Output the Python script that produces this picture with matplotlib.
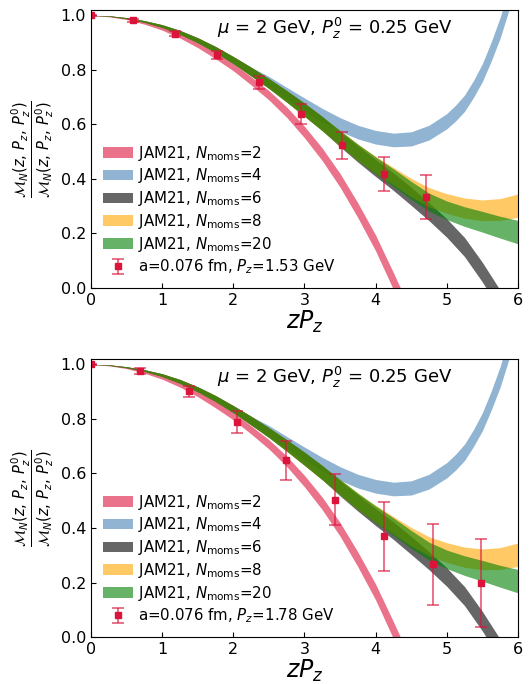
import matplotlib.pyplot as plt

# zP_z grid shared by the JAM21 bands
zpz = [0.0, 0.25, 0.5, 0.75, 1.0, 1.25, 1.5, 1.75, 2.0, 2.25, 2.5, 2.75, 3.0,
       3.25, 3.5, 3.75, 4.0, 4.25, 4.5, 4.75, 5.0, 5.25, 5.5, 5.75, 6.0]
# N=4 rises fast past zP_z=5, so it gets a finer grid there
zpz_n4 = [0.0, 0.25, 0.5, 0.75, 1.0, 1.25, 1.5, 1.75, 2.0, 2.25, 2.5, 2.75,
          3.0, 3.25, 3.5, 3.75, 4.0, 4.25, 4.5, 4.75, 5.0, 5.125, 5.25, 5.375,
          5.5, 5.625, 5.75, 5.875, 6.0]

# band centres and half widths
n2_mid = [1.000, 0.997, 0.988, 0.973, 0.952, 0.925, 0.892, 0.853, 0.810, 0.760,
          0.707, 0.645, 0.572, 0.490, 0.395, 0.285, 0.165, 0.025, -0.120]
n2_err = [0.000, 0.002, 0.003, 0.005, 0.006, 0.008, 0.010, 0.012, 0.013, 0.015,
          0.017, 0.019, 0.021, 0.023, 0.025, 0.027, 0.029, 0.031, 0.033]

n4_mid = [1.000, 0.998, 0.990, 0.978, 0.961, 0.938, 0.909, 0.875, 0.836, 0.794,
          0.756, 0.714, 0.673, 0.634, 0.600, 0.572, 0.553, 0.543, 0.547, 0.570,
          0.612, 0.642, 0.678, 0.730, 0.790, 0.868, 0.955, 1.062, 1.180]
n4_err = [0.000, 0.001, 0.002, 0.003, 0.005, 0.007, 0.009, 0.011, 0.013, 0.016,
          0.020, 0.022, 0.024, 0.025, 0.025, 0.025, 0.025, 0.025, 0.026, 0.027,
          0.028, 0.029, 0.030, 0.031, 0.033, 0.035, 0.038, 0.041, 0.045]

n6_mid = [1.000, 0.998, 0.990, 0.978, 0.961, 0.938, 0.909, 0.875, 0.836, 0.794,
          0.750, 0.703, 0.654, 0.603, 0.546, 0.492, 0.440, 0.390, 0.336, 0.280,
          0.220, 0.150, 0.058, -0.045, -0.160]
n6_err = [0.000, 0.001, 0.002, 0.003, 0.005, 0.007, 0.009, 0.011, 0.013, 0.016,
          0.018, 0.021, 0.024, 0.026, 0.028, 0.030, 0.031, 0.032, 0.033, 0.033,
          0.034, 0.035, 0.036, 0.037, 0.038]

n8_mid = [1.000, 0.998, 0.990, 0.978, 0.961, 0.938, 0.909, 0.875, 0.836, 0.794,
          0.750, 0.703, 0.654, 0.603, 0.550, 0.498, 0.452, 0.410, 0.368, 0.333,
          0.310, 0.293, 0.285, 0.288, 0.302]
n8_err = [0.000, 0.001, 0.002, 0.003, 0.005, 0.007, 0.009, 0.011, 0.013, 0.016,
          0.018, 0.021, 0.024, 0.026, 0.028, 0.030, 0.031, 0.032, 0.034, 0.035,
          0.036, 0.037, 0.038, 0.040, 0.043]

n20_mid = [1.000, 0.998, 0.990, 0.978, 0.961, 0.938, 0.909, 0.875, 0.836, 0.794,
           0.750, 0.703, 0.654, 0.603, 0.550, 0.498, 0.450, 0.405, 0.358, 0.315,
           0.285, 0.262, 0.243, 0.223, 0.205]
n20_err = [0.000, 0.001, 0.002, 0.003, 0.005, 0.007, 0.009, 0.011, 0.013, 0.016,
           0.018, 0.021, 0.024, 0.026, 0.028, 0.030, 0.031, 0.032, 0.033, 0.033,
           0.034, 0.036, 0.038, 0.040, 0.043]

bands = [
    ("JAM21, $N_{\\rm moms}$=2", zpz, n2_mid, n2_err, "crimson"),
    ("JAM21, $N_{\\rm moms}$=4", zpz_n4, n4_mid, n4_err, "steelblue"),
    ("JAM21, $N_{\\rm moms}$=6", zpz, n6_mid, n6_err, "black"),
    ("JAM21, $N_{\\rm moms}$=8", zpz, n8_mid, n8_err, "orange"),
    ("JAM21, $N_{\\rm moms}$=20", zpz, n20_mid, n20_err, "green"),
]

# lattice data, a=0.076 fm
pz153_x = [0.0, 0.589, 1.178, 1.767, 2.356, 2.945, 3.534, 4.123, 4.712]
pz153_y = [1.000, 0.982, 0.933, 0.856, 0.754, 0.638, 0.524, 0.418, 0.333]
pz153_err = [0.002, 0.006, 0.010, 0.015, 0.025, 0.037, 0.050, 0.063, 0.080]

pz178_x = [0.0, 0.686, 1.371, 2.057, 2.743, 3.428, 4.114, 4.800, 5.485]
pz178_y = [1.000, 0.976, 0.902, 0.789, 0.648, 0.504, 0.370, 0.267, 0.198]
pz178_err = [0.002, 0.010, 0.020, 0.042, 0.073, 0.094, 0.126, 0.148, 0.163]

ylabel = (r"$\dfrac{\mathcal{M}_N(z,\,P_z,\,P_z^0)}"
          r"{\mathcal{M}_N(z,\,P_z,\,P_z^0)}$")


def panel(ax, x, y, err, label):
    for name, xg, mid, half, color in bands:
        xs = xg[:len(mid)]
        lo = [m - h for m, h in zip(mid, half)]
        hi = [m + h for m, h in zip(mid, half)]
        ax.fill_between(xs, lo, hi, color=color, alpha=0.6, lw=0, label=name)

    ax.errorbar(x, y, yerr=err, fmt="s", color="crimson", ms=5,
                ecolor=(0.86, 0.08, 0.24, 0.7), elinewidth=1.2, capsize=4,
                capthick=1.2, label=label)

    ax.text(0.57, 0.935, r"$\mu$ = 2 GeV, $P_z^0$ = 0.25 GeV",
            transform=ax.transAxes, ha="center", va="center", fontsize=13)

    ax.set_xlim(0, 6)
    ax.set_ylim(0, 1.02)
    ax.set_xticks([0, 1, 2, 3, 4, 5, 6])
    ax.set_yticks([0.0, 0.2, 0.4, 0.6, 0.8, 1.0])
    ax.tick_params(direction="in", labelsize=11.5)
    ax.set_xlabel("$zP_z$", fontsize=17, labelpad=1)
    ax.set_ylabel(ylabel, fontsize=10.5, labelpad=3)
    ax.legend(loc="lower left", frameon=False, fontsize=10.8,
              handlelength=2.0, handletextpad=0.3, labelspacing=0.25,
              borderaxespad=0.4)


fig = plt.figure(figsize=(5.31, 6.84), dpi=100)
ax1 = fig.add_axes([0.1714, 0.579, 0.804, 0.4064])
ax2 = fig.add_axes([0.1714, 0.0687, 0.804, 0.4064])

panel(ax1, pz153_x, pz153_y, pz153_err, "a=0.076 fm, $P_z$=1.53 GeV")
panel(ax2, pz178_x, pz178_y, pz178_err, "a=0.076 fm, $P_z$=1.78 GeV")

fig.savefig("out.png", dpi=100)
